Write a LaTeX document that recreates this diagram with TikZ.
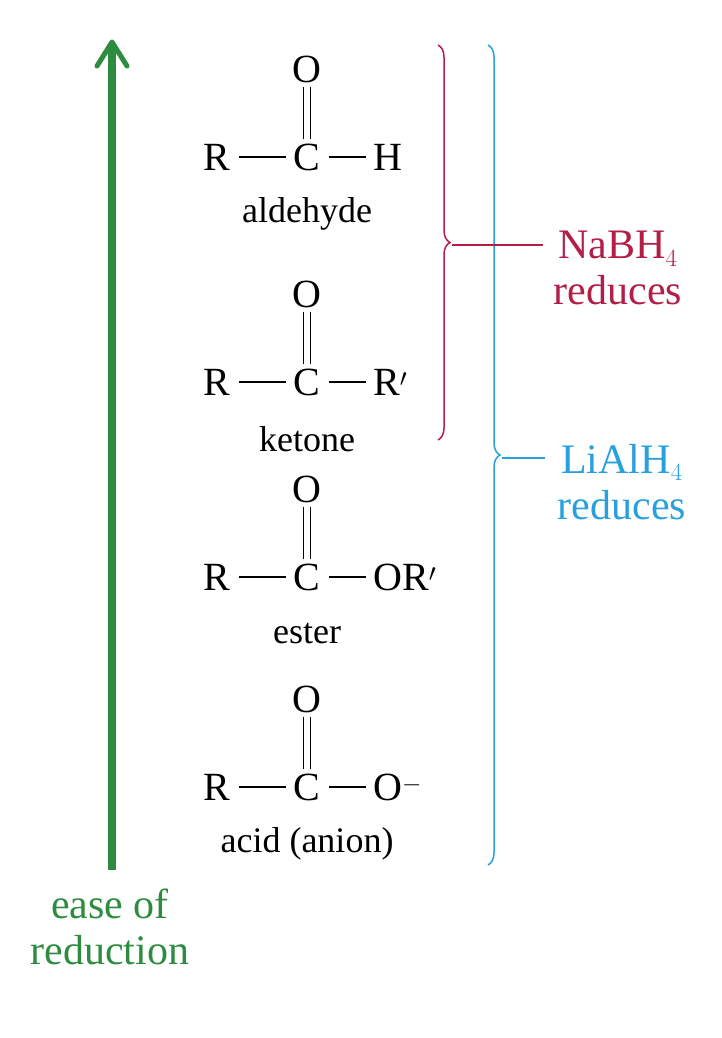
\documentclass[tikz,border=0pt]{standalone}
\usepackage{fontspec}
\setmainfont{Liberation Serif}
\usetikzlibrary{decorations.pathreplacing,arrows.meta}
\definecolor{easegreen}{RGB}{46,140,64}
\definecolor{nared}{RGB}{178,30,70}
\definecolor{liblue}{RGB}{40,160,222}
\begin{document}
\begin{tikzpicture}[x=1pt,y=-1pt,
	atom/.style={font=\fontsize{40}{40}\selectfont,inner sep=0pt},
	cmpd/.style={font=\fontsize{36}{36}\selectfont},
	side/.style={font=\fontsize{42}{46}\selectfont,align=center},
	bond/.style={line width=1.6pt,shorten <=8pt,shorten >=7pt}]
		\useasboundingbox (0,0) rectangle (722,1038);
		% Arrow
		\coordinate (tail) at (112,870);
		\coordinate (tip) at (112,42);
		\draw[easegreen,line width=8pt] (tail) -- ([yshift=-4pt]tip);
		\draw[easegreen,line width=5pt,line cap=round,line join=round] ([xshift=-15pt,yshift=-24pt]tip) -- (tip) -- ([xshift=15pt,yshift=-24pt]tip);
		\node[side,text=easegreen] (ease) at (110,927) {ease of\\reduction};
		
		% Carbonyls
		\foreach \yy/\rgt/\lab/\nm in {157/H/aldehyde/ald,382/R$'$/ketone/ket,577/OR$'$/ester/est,787/O$^{-}$/acid (anion)/acd}{
			\node[atom] (\nm C) at (307,\yy) {C};
			\node[atom] (\nm O) at (307,\yy-88) {O};
			\node[atom] (\nm R) at (217,\yy) {R};
			\node[atom,anchor=west] (\nm X) at (373,\yy) {\rgt};
			\draw[line width=1.6pt] ([xshift=-3.5pt,yshift=-4pt]\nm O.south) -- ([xshift=-3.5pt,yshift=4pt]\nm C.north);
			\draw[line width=1.6pt] ([xshift=3.5pt,yshift=-4pt]\nm O.south) -- ([xshift=3.5pt,yshift=4pt]\nm C.north);
			\draw[bond] (\nm R) -- (\nm C);
			\draw[bond] (\nm C) -- (\nm X.west);
			\node[cmpd] (\nm N) at (307,\yy+57) {\lab};
		}
		
		% Brackets
		\coordinate (natop) at (438,45);
		\coordinate (nabot) at (438,440);
		\coordinate (litop) at (488,45);
		\coordinate (libot) at (488,865);
		\draw[nared,line width=1.5pt,decorate,decoration={brace,amplitude=12pt}] (natop) -- (nabot);
		\draw[liblue,line width=1.5pt,decorate,decoration={brace,amplitude=12pt}] (litop) -- (libot);
		\draw[nared,line width=1.5pt] (452,245) -- (543,245);
		\draw[liblue,line width=1.5pt] (502,458) -- (545,458);
		\node[side,text=nared] (nabh) at (618,268) {NaBH$_4$\\reduces};
		\node[side,text=liblue] (lial) at (622,482) {LiAlH$_4$\\reduces};
\end{tikzpicture}
\end{document}
